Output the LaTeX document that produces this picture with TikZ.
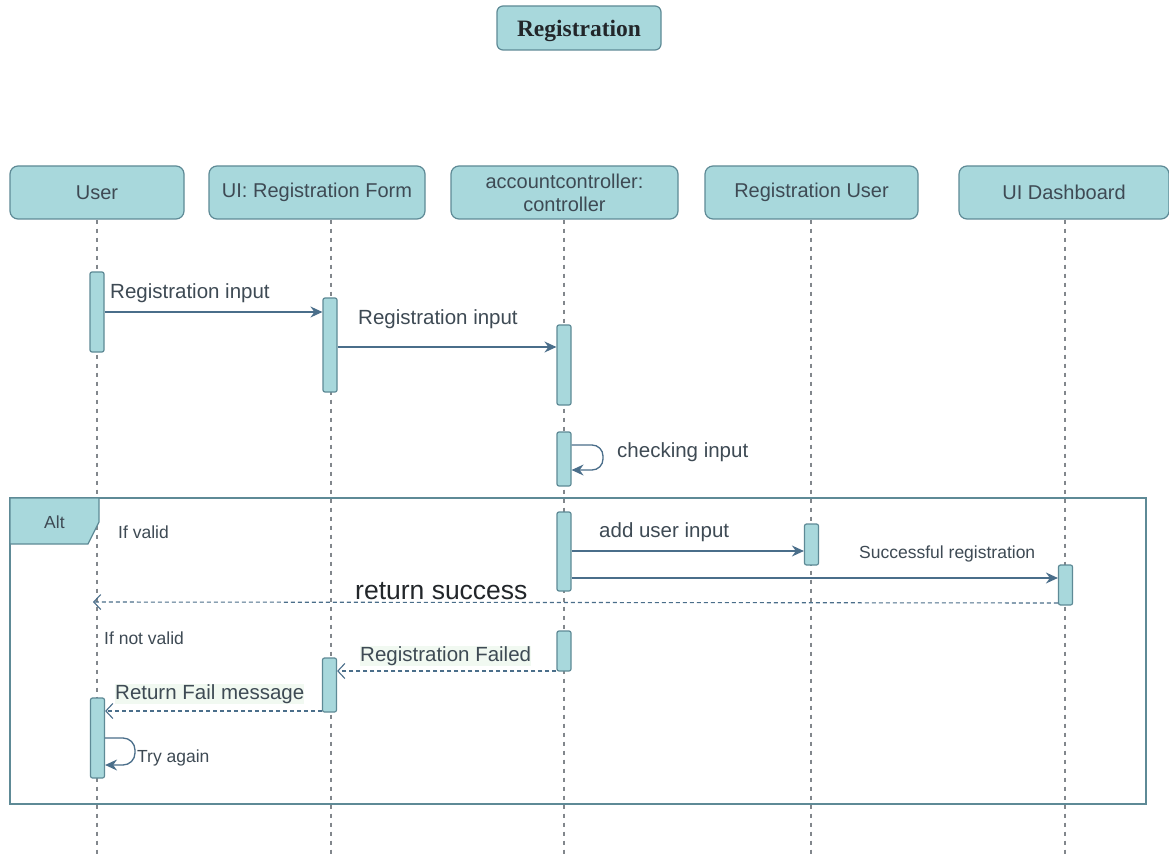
\documentclass[tikz,border=0pt]{standalone}
\usepackage{fontspec}
\setmainfont{Liberation Sans}
\newfontfamily\titlefont{Liberation Serif}
\usetikzlibrary{arrows.meta}
\definecolor{boxfill}{RGB}{168,216,220}
\definecolor{boxdraw}{RGB}{94,138,150}
\definecolor{txt}{RGB}{62,74,84}
\definecolor{darktxt}{RGB}{34,38,42}
\definecolor{arrowc}{RGB}{74,110,138}
\definecolor{lifec}{RGB}{130,135,140}
\definecolor{hl}{RGB}{241,249,241}
\begin{document}
\begin{tikzpicture}[x=1pt,y=-1pt,
 header/.style={draw=boxdraw, fill=boxfill, rounded corners=8pt, line width=1.2pt, minimum height=53pt, inner sep=0pt, text=txt, font=\fontsize{20}{23}\selectfont, align=center},
 actbar/.style={draw=boxdraw, fill=boxfill, rounded corners=2pt, line width=1.2pt, minimum width=14pt, inner sep=0pt},
 lifeline/.style={lifec, line width=1.2pt, dash pattern=on 4pt off 5pt},
 msg/.style={arrowc, line width=1.3pt, -{Stealth[length=12pt,width=11pt,inset=4pt]}},
 ret/.style={arrowc, line width=1.1pt, dash pattern=on 4pt off 3pt, -{Straight Barb[length=7pt,width=15pt]}},
 lbl/.style={text=txt, font=\fontsize{20.5}{23}\selectfont, inner sep=0pt, anchor=west},
 small/.style={text=txt, font=\fontsize{17.5}{20}\selectfont, inner sep=0pt, anchor=west},
]
\useasboundingbox (0,0) rectangle (1169,858);
\fill[white] (0,0) rectangle (1169,858);

% title
\node[draw=boxdraw, fill=boxfill, rounded corners=6pt, line width=1.2pt, minimum width=164pt, minimum height=44pt, font=\titlefont\bfseries\fontsize{23.5}{26}\selectfont, text=darktxt, text depth=0pt, text height=17pt] (title) at (579,28) {Registration};

% headers
\node[header, minimum width=174pt] (user) at (97,192.5) {User};
\node[header, minimum width=216pt] (form) at (317,192.5) {UI: Registration Form};
\node[header, minimum width=227pt] (ctrl) at (564.5,192.5) {accountcontroller:\\controller};
\node[header, minimum width=213pt] (reg) at (811.5,192.5) {Registration User};
\node[header, minimum width=210pt] (dash) at (1064,192.5) {UI Dashboard};

% lifeline ends
\coordinate (userend) at (97,858);
\coordinate (formend) at (331,858);
\coordinate (ctrlend) at (564,858);
\coordinate (regend) at (811,858);
\coordinate (dashend) at (1065,858);
\draw[lifeline] (user.south) -- (userend);
\draw[lifeline] (form.south -| formend) -- (formend);
\draw[lifeline] (ctrl.south -| ctrlend) -- (ctrlend);
\draw[lifeline] (reg.south -| regend) -- (regend);
\draw[lifeline] (dash.south -| dashend) -- (dashend);

% alt frame
\draw[boxdraw, line width=1.5pt] (10,498) rectangle (1146,804);
\draw[boxdraw, fill=boxfill, line width=1.2pt] (10,498) -- (99,498) -- (99,522) -- (88,544) -- (10,544) -- cycle;
\node[small] (alt) at (44,522) {Alt};
\node[small] (ifvalid) at (118,532) {If valid};
\node[small] (ifnot) at (104,638) {If not valid};

% activation bars
\node[actbar, minimum height=80pt] (u1) at (97,312) {};
\node[actbar, minimum height=94pt] (f1) at (330,345) {};
\node[actbar, minimum height=80pt] (c1) at (564,365) {};
\node[actbar, minimum height=54pt] (c2) at (564,459) {};
\node[actbar, minimum height=79pt] (c3) at (564,551.5) {};
\node[actbar, minimum height=41pt] (r1) at (811.5,544.5) {};
\node[actbar, minimum height=40pt] (d1) at (1065.5,585) {};
\node[actbar, minimum height=40pt] (c4) at (564,651) {};
\node[actbar, minimum height=54pt] (f2) at (329.5,685) {};
\node[actbar, minimum height=80pt] (u2) at (97.5,738) {};

% messages
\draw[msg] (u1.east |- 0,312) -- (f1.west |- 0,312);
\node[lbl] (m1) at (110,293) {Registration input};
\draw[msg] (f1.east |- 0,347) -- (c1.west |- 0,347);
\node[lbl] (m2) at (358,319) {Registration input};
\draw[msg, rounded corners=11pt] (c2.east |- 0,445) -| (603,470) -- (c2.east |- 0,470);
\node[lbl] (m3) at (617,452) {checking input};
\draw[msg] (c3.east |- 0,551) -- (r1.west |- 0,551);
\node[lbl] (m4) at (599,532) {add user input};
\draw[msg] (c3.east |- 0,578) -- (d1.west |- 0,578);
\node[small] (m5) at (859,554) {Successful registration};
\coordinate (uret) at (93,602);
\draw[ret] (d1.west |- 0,603) -- (uret);
\node[lbl, text=darktxt, font=\fontsize{26.5}{29}\selectfont] (m6) at (355,591) {return success};
\draw[ret] (c4.west |- 0,671) -- (f2.east |- 0,671);
\node[lbl, fill=hl] (m7) at (360,656) {Registration Failed};
\draw[ret] (f2.west |- 0,711) -- (u2.east |- 0,711);
\node[lbl, fill=hl] (m8) at (115,694) {Return Fail message};
\draw[msg, rounded corners=12pt] (u2.east |- 0,738) -| (135,765) -- (u2.east |- 0,765);
\node[small] (m9) at (137,758) {Try again};
\end{tikzpicture}
\end{document}
